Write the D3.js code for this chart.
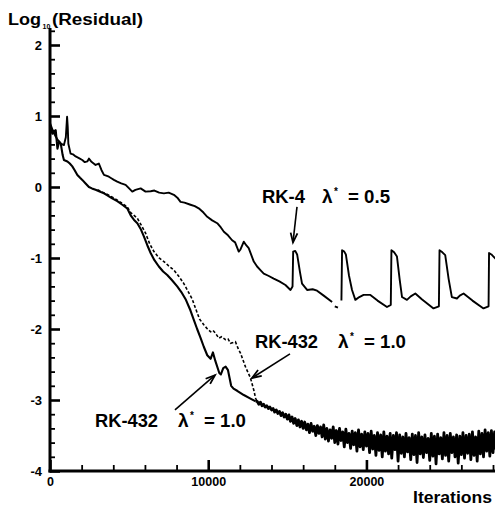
<!DOCTYPE html>
<html><head><meta charset="utf-8">
<script src="https://cdn.jsdelivr.net/npm/d3@7"></script>
<style>
body{margin:0;background:#fff}
svg{display:block}
text{font-family:"Liberation Sans",Arial,Helvetica,sans-serif;font-weight:bold;fill:#000}
</style>
</head><body>
<svg id="chart" width="495" height="509"></svg>
<script>
// ---------------- data ----------------
const yMajorTicks = [-4, -3, -2, -1, 0, 1, 2];
const xMajorTicks = [0, 10000, 20000];
const xTickLabels = ["0", "10000", "20000"];
const yTickLabels = ["-4", "-3", "-2", "-1", "0", "1", "2"];

// RK-4, lambda* = 0.5 (upper solid curve); null = gap in the trace
const rk4Iter = [0,200,360,500,680,880,1000,1080,1120,1160,1300,1450,1620,1800,2040,2200,2360,2460,2600,2880,3090,3250,3410,3550,3720,3900,4040,4250,4500,4780,5000,5200,5400,5730,6040,6360,6600,6900,7200,7500,7830,8050,8250,8500,8880,9150,9400,9700,9940,10250,10570,10800,10990,11250,11510,11700,11930,12040,12250,12400,12560,12880,13090,13300,13510,13800,14140,14500,14880,15200,15330,15370,15500,15620,15800,15930,16250,16600,16880,17300,17830,17900,18000,18200,18300,18420,18460,18600,18700,18900,19090,19300,19550,19820,20250,20700,21300,21540,21580,21750,21930,22100,22250,22560,22800,23090,23500,24240,24580,24620,24800,24980,25200,25400,25720,25900,26140,26700,27400,27720,27750,27900,28030,28200];
const rk4Val = [0.90,0.78,0.71,0.66,0.61,0.59,0.70,0.99,0.85,0.61,0.47,0.46,0.43,0.41,0.38,0.35,0.36,0.40,0.36,0.31,0.33,0.24,0.17,0.16,0.145,0.12,0.10,0.075,0.05,0.03,-0.02,-0.065,-0.04,-0.02,-0.065,-0.06,-0.05,-0.08,-0.09,-0.08,-0.11,-0.15,-0.21,-0.22,-0.25,-0.27,-0.30,-0.36,-0.42,-0.47,-0.51,-0.57,-0.63,-0.68,-0.75,-0.78,-0.91,-0.88,-0.77,-0.82,-0.86,-1.05,-1.12,-1.17,-1.22,-1.25,-1.29,-1.33,-1.38,-1.45,-1.40,-0.91,-0.90,-0.95,-1.20,-1.36,-1.45,-1.44,-1.46,-1.53,-1.62,null,-1.68,-1.70,null,-1.60,-0.89,-0.91,-0.95,-1.25,-1.45,-1.59,-1.55,-1.52,-1.52,-1.60,-1.69,-1.66,-0.89,-0.92,-0.98,-1.30,-1.55,-1.59,-1.54,-1.50,-1.58,-1.71,-1.68,-0.89,-0.92,-0.96,-1.30,-1.55,-1.57,-1.53,-1.50,-1.60,-1.71,-1.68,-0.93,-0.95,-0.98,-1.02];

// RK-432 (solid), descent part
const rk432Iter = [0,150,360,470,580,680,800,880,1100,1250,1410,1550,1730,1900,2040,2250,2460,2650,2880,3100,3410,3650,3930,4250,4570,4880,5100,5300,5520,5750,5940,6150,6360,6600,6880,7150,7410,7700,8040,8300,8570,8880,9090,9300,9510,9720,9940,10150,10300,10450,10700,10800,10950,11100,11250,11450,11600,11830,12250,12670,13000];
const rk432Val = [0.85,0.75,0.80,0.54,0.64,0.61,0.45,0.38,0.36,0.33,0.29,0.24,0.17,0.13,0.10,0.05,0.0,-0.02,-0.04,-0.06,-0.09,-0.12,-0.16,-0.20,-0.25,-0.30,-0.40,-0.46,-0.51,-0.60,-0.70,-0.82,-0.93,-1.03,-1.12,-1.19,-1.24,-1.31,-1.40,-1.48,-1.58,-1.74,-1.87,-2.00,-2.12,-2.25,-2.37,-2.42,-2.33,-2.45,-2.62,-2.64,-2.55,-2.53,-2.58,-2.80,-2.84,-2.87,-2.93,-2.98,-3.02];

// RK-432 (solid), noisy tail sampled every 100 iterations from 13000
const tailStart = 13000, tailStep = 100;
const rk432Tail = [-3.02,
 -3.02,-3.06,-3.03,-3.08,-3.06,-3.10,-3.08,-3.12,-3.10,-3.14,
 -3.12,-3.17,-3.14,-3.19,-3.16,-3.22,-3.18,-3.24,-3.20,-3.27,
 -3.21,-3.30,-3.24,-3.33,-3.26,-3.36,-3.28,-3.38,-3.30,-3.40,
 -3.31,-3.42,-3.34,-3.46,-3.33,-3.44,-3.37,-3.50,-3.36,-3.47,
 -3.38,-3.52,-3.35,-3.55,-3.40,-3.58,-3.42,-3.54,-3.38,-3.60,
 -3.43,-3.62,-3.40,-3.57,-3.45,-3.66,-3.41,-3.60,-3.47,-3.68,
 -3.44,-3.63,-3.46,-3.72,-3.42,-3.66,-3.48,-3.70,-3.45,-3.65,
 -3.47,-3.74,-3.44,-3.69,-3.50,-3.78,-3.46,-3.71,-3.49,-3.80,
 -3.45,-3.72,-3.51,-3.76,-3.47,-3.82,-3.50,-3.70,-3.46,-3.86,
 -3.49,-3.75,-3.52,-3.80,-3.47,-3.73,-3.53,-3.84,-3.48,-3.77,
 -3.50,-3.88,-3.46,-3.76,-3.52,-3.81,-3.49,-3.74,-3.54,-3.85,
 -3.47,-3.79,-3.51,-3.90,-3.48,-3.76,-3.53,-3.83,-3.46,-3.78,
 -3.50,-3.86,-3.47,-3.74,-3.52,-3.80,-3.49,-3.89,-3.51,-3.77,
 -3.46,-3.82,-3.50,-3.75,-3.48,-3.84,-3.45,-3.78,-3.52,-3.86,
 -3.44,-3.76,-3.47,-3.80,-3.42,-3.72,-3.46,-3.79,-3.43,-3.74,-3.45,-3.70];

// RK-432 (dashed)
const rk432dIter = [3000,3500,4000,4500,4880,5100,5520,5800,6040,6300,6570,6900,7200,7500,7830,8150,8460,8700,8990,9200,9450,9720,9950,10150,10300,10460,10670,10850,11090,11250,11410,11720,11900,12040,12350,12670,12880,13000,13100];
const rk432dVal = [-0.04,-0.09,-0.15,-0.22,-0.28,-0.36,-0.44,-0.55,-0.65,-0.80,-0.91,-1.00,-1.05,-1.11,-1.17,-1.26,-1.36,-1.46,-1.58,-1.71,-1.86,-1.94,-2.00,-2.04,-2.02,-2.06,-2.13,-2.11,-2.15,-2.14,-2.20,-2.18,-2.28,-2.34,-2.53,-2.69,-2.86,-2.98,-3.02];

// annotations: label anchor (iteration, value) and arrow (from -> to)
const annoLabels = [
  {name: "RK-4",   lam: "0.5", it: 13400, v: -0.225},
  {name: "RK-432", lam: "1.0", it: 12956, v: -2.268},
  {name: "RK-432", lam: "1.0", it: 2844,  v: -3.380}
];
const annoArrows = [
  {fromIt: 15611, fromV: -0.28, toIt: 15358, toV: -0.78},
  {fromIt: 15168, fromV: -2.35, toIt: 12766, toV: -2.69},
  {fromIt: 7900,  fromV: -3.14, toIt: 10428, toV: -2.65}
];

// ---------------- drawing ----------------
const svg = d3.select("#chart");
const x = d3.scaleLinear().domain([0, 28000]).range([50, 493]);
const y = d3.scaleLinear().domain([-4, 2]).range([471, 45]);

const line = d3.line()
  .defined(d => d.v !== null)
  .x(d => x(d.it)).y(d => y(d.v));

const rk4 = rk4Iter.map((it, i) => ({it, v: rk4Val[i]}));
const rk432 = rk432Iter.map((it, i) => ({it, v: rk432Val[i]}));
const tail = rk432Tail.map((v, i) => ({it: tailStart + i * tailStep, v}));
const rk432d = rk432dIter.map((it, i) => ({it, v: rk432dVal[i]}));

// curves
svg.append("path").datum(rk432d).attr("d", line)
  .attr("fill", "none").attr("stroke", "#000").attr("stroke-width", 1.6)
  .attr("stroke-dasharray", "3,2");
svg.append("path").datum(rk432).attr("d", line)
  .attr("fill", "none").attr("stroke", "#000").attr("stroke-width", 2.1)
  .attr("stroke-linejoin", "round");
svg.append("path").datum(tail).attr("d", line)
  .attr("fill", "none").attr("stroke", "#000").attr("stroke-width", 2.8)
  .attr("stroke-linejoin", "round");
svg.append("path").datum(rk4).attr("d", line)
  .attr("fill", "none").attr("stroke", "#000").attr("stroke-width", 1.9)
  .attr("stroke-linejoin", "round");

// axes
const yMinor = d3.range(-40, 23, 2).map(d => d / 10).filter(d => !yMajorTicks.includes(d) && d <= 2.2);
const xMinor = d3.range(0, 28001, 2000).filter(d => !xMajorTicks.includes(d));

const gy = svg.append("g").attr("transform", `translate(${x(0)},0)`);
gy.call(d3.axisLeft(y).tickValues(yMinor).tickSize(-5).tickFormat(""))
  .call(g => g.select(".domain").remove())
  .call(g => g.selectAll("line").attr("stroke-width", 1.8));
const gy2 = svg.append("g").attr("transform", `translate(${x(0)},0)`);
gy2.call(d3.axisLeft(y).tickValues(yMajorTicks).tickSize(-10).tickPadding(8)
    .tickFormat((d, i) => yTickLabels[i]))
  .call(g => g.select(".domain").remove())
  .call(g => g.selectAll("line").attr("stroke-width", 2.6))
  .call(g => g.selectAll("text").attr("font-size", 13).attr("font-family", null).attr("fill", "#000"));

const gx = svg.append("g").attr("transform", `translate(0,${y(-4)})`);
gx.call(d3.axisBottom(x).tickValues(xMinor).tickSize(-6).tickFormat(""))
  .call(g => g.select(".domain").remove())
  .call(g => g.selectAll("line").attr("stroke-width", 1.8));
const gx2 = svg.append("g").attr("transform", `translate(0,${y(-4)})`);
gx2.call(d3.axisBottom(x).tickValues(xMajorTicks).tickSize(-11).tickPadding(6)
    .tickFormat((d, i) => xTickLabels[i]))
  .call(g => g.select(".domain").remove())
  .call(g => g.selectAll("line").attr("stroke-width", 2.6))
  .call(g => g.selectAll("text").attr("font-size", 12.5).attr("font-family", null).attr("fill", "#000"));

// axis lines
svg.append("line").attr("x1", x(0)).attr("x2", x(0)).attr("y1", y(2.24)).attr("y2", y(-4) + 1.5)
  .attr("stroke", "#000").attr("stroke-width", 3);
svg.append("line").attr("x1", x(0) - 1.5).attr("x2", 495).attr("y1", y(-4)).attr("y2", y(-4))
  .attr("stroke", "#000").attr("stroke-width", 3);

// axis titles
svg.append("text").attr("x", 8).attr("y", 25).attr("font-size", 16)
  .attr("textLength", 33).attr("lengthAdjust", "spacingAndGlyphs").text("Log");
svg.append("text").attr("x", 42.5).attr("y", 29).attr("font-size", 7).text("10");
svg.append("text").attr("x", 52).attr("y", 25).attr("font-size", 16)
  .attr("textLength", 91).attr("lengthAdjust", "spacingAndGlyphs").text("(Residual)");
svg.append("text").attr("x", 413).attr("y", 503).attr("font-size", 16)
  .attr("textLength", 79).attr("lengthAdjust", "spacingAndGlyphs").text("Iterations");

// annotation labels
annoLabels.forEach(a => {
  const px = x(a.it), py = y(a.v);
  const nameW = a.name === "RK-4" ? 43 : 63;
  const g = svg.append("g").attr("transform", `translate(${px},${py})`);
  g.append("text").attr("x", 0).attr("y", 0).attr("font-size", 19)
    .attr("textLength", nameW).attr("lengthAdjust", "spacingAndGlyphs").text(a.name);
  const lx = nameW + (a.name === "RK-4" ? 17 : 20);
  g.append("text").attr("x", lx).attr("y", 0).attr("font-size", 19).text("λ");
  g.append("text").attr("x", lx + 12).attr("y", -8).attr("font-size", 10).text("*");
  g.append("text").attr("x", lx + 26).attr("y", 0).attr("font-size", 19)
    .attr("textLength", 42).attr("lengthAdjust", "spacingAndGlyphs").text("= " + a.lam);
});

// annotation arrows
annoArrows.forEach(a => {
  const x1 = x(a.fromIt), y1 = y(a.fromV), x2 = x(a.toIt), y2 = y(a.toV);
  svg.append("line").attr("x1", x1).attr("y1", y1).attr("x2", x2).attr("y2", y2)
    .attr("stroke", "#000").attr("stroke-width", 1.6);
  const ang = Math.atan2(y2 - y1, x2 - x1), L = 10, w = 0.35;
  const p = [[x2 - L * Math.cos(ang - w), y2 - L * Math.sin(ang - w)], [x2, y2],
             [x2 - L * Math.cos(ang + w), y2 - L * Math.sin(ang + w)]];
  svg.append("path").attr("d", d3.line()(p)).attr("fill", "none")
    .attr("stroke", "#000").attr("stroke-width", 1.8);
});
</script>
</body></html>
